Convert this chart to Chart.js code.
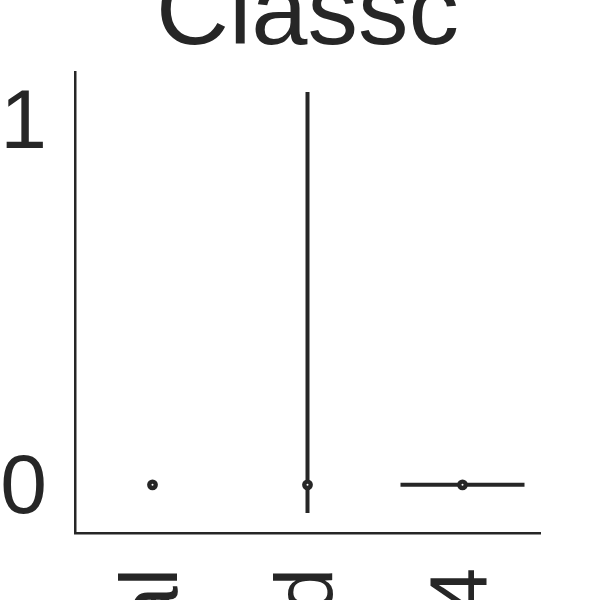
<!DOCTYPE html>
<html lang="en">

<head>
    <meta charset="UTF-8">
    <title>Classc</title>
    <script src="https://cdn.jsdelivr.net/npm/chart.js@4.4.1/dist/chart.umd.min.js"></script>
    <style>
        html, body {
            margin: 0;
            padding: 0;
            background: #ffffff;
        }
        #wrap {
            width: 600px;
            height: 600px;
        }
    </style>
</head>

<body>
    <div id="wrap">
        <canvas id="myChart" width="600" height="600"></canvas>
    </div>

    <script>
        // data
        const title = "Classc";
        const categories = ["Normal", "Elevated", "Level 4"];
        const medians = [0, 0, 0];
        const lowValues = [0, -0.077, 0];      // bottom of each violin
        const highValues = [0, 1.077, 0];      // top of each violin
        const densityWidth = [0, 0, 0.8];      // violin width, in category units
        const yTicks = [0, 1];

        const ink = "#262626";
        const fontFamily = "'Liberation Sans', Arial, sans-serif";

        // one line per violin (they are all collapsed to lines here)
        const datasets = [];
        categories.forEach(function (c, i) {
            datasets.push({
                type: "line",
                label: c,
                order: 2,
                data: [
                    { x: i - densityWidth[i] / 2, y: lowValues[i] },
                    { x: i + densityWidth[i] / 2, y: highValues[i] }
                ],
                borderColor: ink,
                borderWidth: 4,
                pointRadius: 0,
                fill: false,
                tension: 0
            });
        });

        // median markers, drawn on top of the violins
        datasets.push({
            type: "scatter",
            label: "median",
            order: 1,
            data: medians.map(function (m, i) { return { x: i, y: m }; }),
            backgroundColor: "#ffffff",
            borderColor: ink,
            borderWidth: 4.4,
            pointRadius: 3.2
        });

        // keep the axes from asking for extra room round the plot
        function noPadding(scale) {
            scale.paddingTop = 0;
            scale.paddingBottom = 0;
            scale.paddingLeft = 0;
            scale.paddingRight = 0;
        }

        const config = {
            type: "scatter",
            data: { datasets: datasets },
            options: {
                responsive: false,
                animation: false,
                layout: { padding: { left: 0, right: 60, top: 0, bottom: 0 } },
                plugins: {
                    legend: { display: false },
                    tooltip: { enabled: false },
                    title: {
                        display: true,
                        text: title,
                        fullSize: false,
                        color: ink,
                        font: { family: fontFamily, size: 101, weight: "normal", lineHeight: 1 },
                        padding: { top: -34, bottom: 5 }
                    }
                },
                scales: {
                    x: {
                        type: "linear",
                        min: -0.5,
                        max: 2.5,
                        afterBuildTicks: function (scale) {
                            scale.ticks = categories.map(function (c, i) { return { value: i }; });
                        },
                        afterFit: function (scale) {
                            scale.height = 67;
                            noPadding(scale);
                        },
                        grid: { display: false, drawTicks: false },
                        border: { display: true, color: ink, width: 2.5 },
                        ticks: {
                            color: ink,
                            font: { family: fontFamily, size: 82 },
                            padding: 35,
                            labelOffset: 2,
                            autoSkip: false,
                            minRotation: 90,
                            maxRotation: 90,
                            callback: function (v) { return categories[v]; }
                        }
                    },
                    y: {
                        type: "linear",
                        min: -0.132,
                        max: 1.132,
                        afterBuildTicks: function (scale) {
                            scale.ticks = yTicks.map(function (v) { return { value: v }; });
                        },
                        afterFit: function (scale) {
                            scale.width = 75;
                            noPadding(scale);
                        },
                        grid: { display: false, drawTicks: false },
                        border: { display: true, color: ink, width: 2.5 },
                        ticks: {
                            color: ink,
                            font: { family: fontFamily, size: 84 },
                            padding: 28,
                            labelOffset: 5
                        }
                    }
                }
            }
        };

        window.myChart = new Chart(document.getElementById("myChart").getContext("2d"), config);
    </script>
</body>

</html>
